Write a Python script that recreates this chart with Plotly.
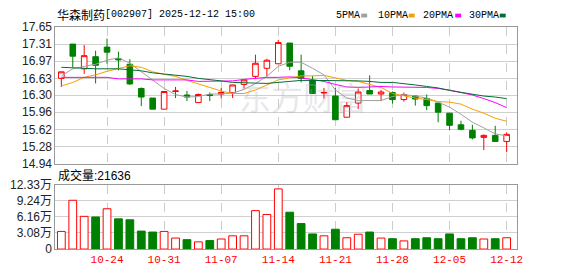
import plotly.graph_objects as go

W, H = 578, 276

dates = ['10-20', '10-21', '10-22', '10-23', '10-24', '10-27', '10-28', '10-29', '10-30', '10-31',
         '11-03', '11-04', '11-05', '11-06', '11-07', '11-10', '11-11', '11-12', '11-13', '11-14',
         '11-17', '11-18', '11-19', '11-20', '11-21', '11-24', '11-25', '11-26', '11-27', '11-28',
         '12-01', '12-02', '12-03', '12-04', '12-05', '12-08', '12-09', '12-10', '12-11', '12-12']
tick_dates = ['10-24', '10-31', '11-07', '11-14', '11-21', '11-28', '12-05', '12-12']

open_ = [16.63, 17.31, 16.82, 17.06, 17.25, 17.02, 16.91, 16.43, 16.24, 16.02,
         16.37, 16.30, 16.15, 16.31, 16.32, 16.35, 16.51, 16.67, 16.83, 16.92,
         17.33, 16.78, 16.59, 16.34, 16.28, 15.86, 16.14, 16.39, 16.32, 16.35,
         16.21, 16.28, 16.23, 16.14, 15.94, 15.71, 15.60, 15.46, 15.50, 15.38]
high = [16.76, 17.31, 17.29, 17.18, 17.42, 17.16, 17.01, 16.45, 16.24, 16.37,
        16.46, 16.38, 16.33, 16.35, 16.44, 16.50, 16.61, 17.10, 17.02, 17.39,
        17.33, 17.10, 16.68, 16.44, 16.44, 16.16, 16.43, 16.69, 16.40, 16.37,
        16.35, 16.29, 16.31, 16.14, 15.94, 15.79, 15.71, 15.52, 15.69, 15.56]
low = [16.46, 16.85, 16.72, 16.53, 16.92, 16.79, 16.50, 16.08, 16.02, 16.02,
       16.24, 16.18, 16.15, 16.18, 16.23, 16.24, 16.43, 16.63, 16.67, 16.92,
       16.79, 16.55, 16.33, 16.23, 15.81, 15.86, 16.02, 16.32, 16.18, 16.13,
       16.17, 16.09, 16.00, 15.76, 15.60, 15.60, 15.42, 15.21, 15.38, 15.17]
close = [16.76, 17.07, 17.08, 16.89, 17.15, 17.00, 16.52, 16.26, 16.02, 16.37,
         16.38, 16.26, 16.31, 16.29, 16.35, 16.50, 16.60, 16.93, 16.99, 17.34,
         16.87, 16.63, 16.33, 16.35, 15.81, 16.09, 16.36, 16.32, 16.36, 16.21,
         16.31, 16.22, 16.09, 15.96, 15.70, 15.62, 15.45, 15.50, 15.38, 15.52]

ma5 = [16.68, 16.82, 16.87, 16.91, 16.99, 17.04, 16.93, 16.76, 16.59, 16.43,
       16.31, 16.26, 16.27, 16.32, 16.32, 16.34, 16.41, 16.53, 16.67, 16.87,
       16.95, 16.95, 16.83, 16.70, 16.40, 16.24, 16.19, 16.19, 16.19, 16.27,
       16.31, 16.28, 16.24, 16.16, 16.06, 15.92, 15.76, 15.65, 15.53, 15.49]
ma10 = [16.48, 16.55, 16.65, 16.70, 16.77, 16.83, 16.88, 16.85, 16.76, 16.71,
        16.67, 16.59, 16.52, 16.46, 16.38, 16.33, 16.33, 16.40, 16.50, 16.60,
        16.64, 16.68, 16.68, 16.69, 16.64, 16.59, 16.57, 16.51, 16.45, 16.33,
        16.28, 16.24, 16.21, 16.17, 16.16, 16.12, 16.02, 15.94, 15.84, 15.78]
ma20 = [16.65, 16.65, 16.65, 16.65, 16.65, 16.62, 16.62, 16.62, 16.60, 16.60,
        16.60, 16.60, 16.57, 16.57, 16.57, 16.58, 16.61, 16.63, 16.65, 16.65,
        16.66, 16.64, 16.60, 16.57, 16.51, 16.46, 16.45, 16.46, 16.47, 16.46,
        16.46, 16.46, 16.45, 16.43, 16.40, 16.35, 16.30, 16.23, 16.15, 16.05]
ma30 = [16.85, 16.84, 16.82, 16.82, 16.82, 16.82, 16.80, 16.78, 16.74, 16.72,
        16.69, 16.67, 16.63, 16.61, 16.58, 16.55, 16.54, 16.53, 16.53, 16.55,
        16.57, 16.59, 16.59, 16.59, 16.59, 16.59, 16.58, 16.57, 16.55, 16.55,
        16.53, 16.50, 16.47, 16.44, 16.39, 16.35, 16.31, 16.28, 16.26, 16.23]

volume = [33700, 93200, 62500, 61300, 77000, 57700, 55900, 34300, 32500, 33700,
          21000, 18000, 13800, 16200, 19200, 25300, 25300, 73400, 66100, 114900,
          70400, 48700, 28900, 25300, 37900, 21600, 28300, 32500, 21000, 19800,
          15600, 19800, 21600, 19800, 28900, 19800, 21600, 19200, 19800, 21636]

price_ticks = [14.94, 15.28, 15.62, 15.96, 16.30, 16.63, 16.97, 17.31, 17.65]
price_ticktext = ['14.94', '15.28', '15.62', '15.96', '16.30', '16.63', '16.97', '17.31', '17.65']
vol_ticks = [0, 30800, 61600, 92400, 123300]
vol_ticktext = ['0', '3.08万', '6.16万', '9.24万', '12.33万']

ma_names = ['5PMA', '10PMA', '20PMA', '30PMA']
ma_colors = ['#a0a0a0', '#f5a000', '#ff00ff', '#006f35']

RED = '#ff0000'
GREEN = '#008000'

# volume colour: up vs previous close
vol_up = [True] + [close[i] >= close[i - 1] for i in range(1, len(close))]


def px_x(p):
    return p / W


def px_y(p):
    return 1 - p / H


fig = go.Figure()

fig.add_trace(go.Candlestick(
    x=dates, open=open_, high=high, low=low, close=close,
    increasing=dict(line=dict(color=RED, width=1), fillcolor='white'),
    decreasing=dict(line=dict(color=GREEN, width=1), fillcolor=GREEN),
    whiskerwidth=0, xaxis='x', yaxis='y', showlegend=False, hoverinfo='skip'))

for vals, color in zip([ma5, ma10, ma20, ma30], ma_colors):
    fig.add_trace(go.Scatter(x=dates, y=vals, mode='lines',
                             line=dict(color=color, width=1),
                             xaxis='x', yaxis='y', showlegend=False, hoverinfo='skip'))

fig.add_trace(go.Bar(
    x=dates, y=volume, width=0.68,
    marker=dict(color=['white' if u else GREEN for u in vol_up],
                line=dict(color=[RED if u else GREEN for u in vol_up], width=1)),
    xaxis='x2', yaxis='y2', showlegend=False, hoverinfo='skip'))

xdom = [px_x(56), px_x(522)]
xrange_ = [-0.52, 39.87]
common_x = dict(type='category', domain=xdom, range=xrange_, tickvals=tick_dates,
                showgrid=True, gridcolor='#cccccc', griddash='dash', gridwidth=1,
                showline=True, mirror=True, linecolor='#999999', linewidth=1,
                zeroline=False, ticks='', fixedrange=True)
common_y = dict(showgrid=True, gridcolor='#d0d0d0', gridwidth=1, zeroline=False,
                showline=True, mirror=True, linecolor='#999999', linewidth=1,
                ticks='', fixedrange=True,
                tickfont=dict(family='Liberation Sans, Noto Sans CJK SC', size=12, color='#222222'))

fig.update_layout(
    width=W, height=H, margin=dict(l=0, r=0, t=0, b=0),
    paper_bgcolor='white', plot_bgcolor='white',
    xaxis=dict(common_x, anchor='y', showticklabels=False, rangeslider=dict(visible=False)),
    xaxis2=dict(common_x, anchor='y2', showticklabels=True,
                tickfont=dict(family='Liberation Mono', size=11, color=RED)),
    yaxis=dict(common_y, domain=[px_y(165), px_y(21)], range=[14.94, 17.65],
               tickvals=price_ticks, ticktext=price_ticktext),
    yaxis2=dict(common_y, domain=[px_y(255), px_y(187)], range=[0, 123300],
                tickvals=vol_ticks, ticktext=vol_ticktext),
    bargap=0.3,
)

annotations = [
    dict(text='华森制药', x=px_x(56), y=px_y(8), xref='paper', yref='paper',
         xanchor='left', yanchor='middle', showarrow=False,
         font=dict(family='Noto Sans CJK SC', size=12, color='#000000')),
    dict(text='[002907] 2025-12-12 15:00', x=px_x(104), y=px_y(8), xref='paper', yref='paper',
         xanchor='left', yanchor='middle', showarrow=False,
         font=dict(family='Liberation Mono', size=10, color='#000000')),
    dict(text='成交量:21636', x=px_x(57), y=px_y(177), xref='paper', yref='paper',
         xanchor='left', yanchor='middle', showarrow=False,
         font=dict(family='Liberation Sans, Noto Sans CJK SC', size=12, color='#000000')),
    dict(text='东方财富', x=px_x(306), y=px_y(94), xref='paper', yref='paper',
         xanchor='center', yanchor='middle', showarrow=False,
         font=dict(family='Noto Sans CJK SC', size=32, color='rgba(170,170,185,0.28)')),
]
legend_text_x = [338, 380, 425, 472]
legend_sq_x = [365, 413, 460, 505]
shapes = []
for name, color, tx, sx in zip(ma_names, ma_colors, legend_text_x, legend_sq_x):
    annotations.append(dict(text=name, x=px_x(tx), y=px_y(9), xref='paper', yref='paper',
                            xanchor='left', yanchor='middle', showarrow=False,
                            font=dict(family='Liberation Mono', size=10, color='#000000')))
    shapes.append(dict(type='rect', xref='paper', yref='paper',
                       x0=px_x(sx), x1=px_x(sx + 6), y0=px_y(11), y1=px_y(7),
                       fillcolor=color, line=dict(width=0)))

fig.update_layout(annotations=annotations, shapes=shapes)

fig.write_html('out.html', config={'displayModeBar': False})
